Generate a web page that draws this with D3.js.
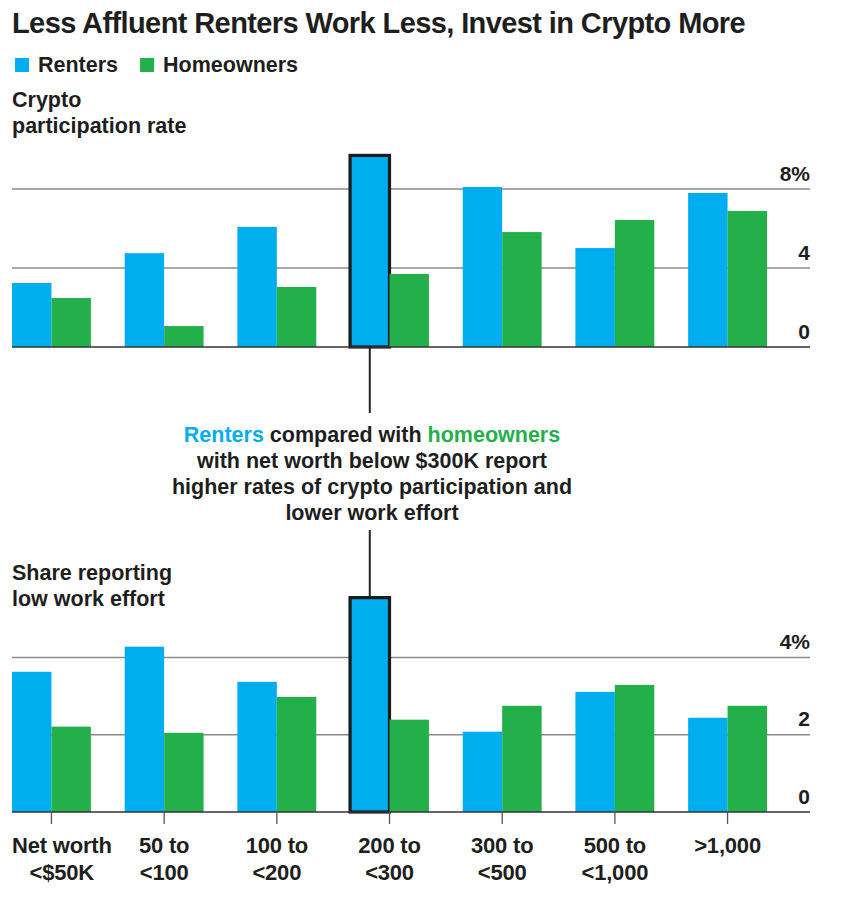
<!DOCTYPE html>
<html>
<head>
<meta charset="utf-8">
<title>Less Affluent Renters Work Less</title>
<script src="https://d3js.org/d3.v7.min.js"></script>
<style>
  body { margin: 0; background: #fff; }
  svg text { font-family: "Liberation Sans", Arial, sans-serif; fill: #1e1e1e; font-weight: bold; }
  .grid { stroke: #8a8a8a; stroke-width: 1.6; }
  .base { stroke: #333; stroke-width: 1.6; }
  .xlab { font-size: 22px; letter-spacing: -0.2px; }
</style>
</head>
<body>
<div id="chart"></div>
<script>
// Net worth groups (thousands of dollars)
var groups = ["<50", "50-100", "100-200", "200-300", "300-500", "500-1000", ">1000"];
var groupLabels = [["Net worth", "<$50K"], ["50 to", "<100"], ["100 to", "<200"], ["200 to", "<300"],
                   ["300 to", "<500"], ["500 to", "<1,000"], [">1,000", ""]];
var series = ["Renters", "Homeowners"];

// Crypto participation rate (%)
var cryptoRenters    = [3.24, 4.75, 6.08, 9.7, 8.1, 5.01, 7.8];
var cryptoHomeowners = [2.48, 1.06, 3.04, 3.7, 5.82, 6.43, 6.89];
var cryptoTicks = [0, 4, 8];

// Share reporting low work effort (%)
var workRenters    = [3.63, 4.28, 3.37, 5.55, 2.08, 3.11, 2.44];
var workHomeowners = [2.21, 2.05, 2.98, 2.39, 2.75, 3.29, 2.75];
var workTicks = [0, 2, 4];

var highlight = "200-300";

var width = 862, height = 897;
var colors = {Renters: "#00adee", Homeowners: "#23b04b"};

var svg = d3.select("#chart").append("svg")
  .attr("width", width).attr("height", height);

// title + legend
svg.append("text").attr("x", 12).attr("y", 33)
  .style("font-size", "29px").style("letter-spacing", "-0.6px")
  .text("Less Affluent Renters Work Less, Invest in Crypto More");

var legend = svg.append("g").attr("transform", "translate(15,72)");
var lx = 0;
series.forEach(function(s) {
  legend.append("rect").attr("x", lx).attr("y", -14).attr("width", 14).attr("height", 14)
    .attr("fill", colors[s]);
  var t = legend.append("text").attr("x", lx + 23).attr("y", 0)
    .style("font-size", "21.5px")
    .text(s);
  lx += 23 + t.node().getComputedTextLength() + 22;
});

var x0 = d3.scaleBand().domain(groups).range([12, 767]).paddingInner(0.3).paddingOuter(0);
var x1 = d3.scaleBand().domain(series).range([0, x0.bandwidth()]);

function panel(top, bottom, maxV, ticks, renters, homeowners, titleLines, titleY) {
  var y = d3.scaleLinear().domain([0, maxV]).range([bottom, top]);
  var g = svg.append("g");

  titleLines.forEach(function(l, i) {
    g.append("text").attr("x", 12).attr("y", titleY + i * 26)
      .style("font-size", "21.5px").text(l);
  });

  var axis = d3.axisRight(y).tickValues(ticks).tickSize(0)
    .tickFormat(function(d, i) { return i === ticks.length - 1 ? d + "%" : d; });
  var ax = g.append("g").attr("transform", "translate(810,0)").call(axis);
  ax.select(".domain").remove();
  ax.selectAll("text").attr("x", 0).attr("dy", -9).attr("text-anchor", "end")
    .style("font-size", "21px").style("font-family", "'Liberation Sans', sans-serif");

  g.selectAll(".grid").data(ticks.filter(function(d) { return d > 0; })).join("line")
    .attr("class", "grid").attr("x1", 12).attr("x2", 810)
    .attr("y1", function(d) { return y(d); }).attr("y2", function(d) { return y(d); });

  var data = groups.map(function(k, i) {
    return {key: k, values: [{s: "Renters", v: renters[i]}, {s: "Homeowners", v: homeowners[i]}]};
  });

  var grp = g.selectAll(".grp").data(data).join("g")
    .attr("transform", function(d) { return "translate(" + x0(d.key) + ",0)"; });
  grp.selectAll("rect").data(function(d) { return d.values.map(function(v) { return Object.assign({key: d.key}, v); }); })
    .join("rect")
    .attr("x", function(d) { return x1(d.s); })
    .attr("width", x1.bandwidth())
    .attr("y", function(d) { return y(d.v); })
    .attr("height", function(d) { return bottom - y(d.v); })
    .attr("fill", function(d) { return colors[d.s]; })
    .attr("stroke", function(d) { return d.key === highlight && d.s === "Renters" ? "#1b1b1b" : "none"; })
    .attr("stroke-width", 3.2);

  // raise highlighted bar so its border sits on top
  grp.filter(function(d) { return d.key === highlight; }).raise();

  g.append("line").attr("class", "base").attr("x1", 12).attr("x2", 810)
    .attr("y1", bottom).attr("y2", bottom);

  return y;
}

var yTop = panel(189, 347, 8, cryptoTicks, cryptoRenters, cryptoHomeowners,
  ["Crypto", "participation rate"], 107);
var yBot = panel(657.5, 812, 4, workTicks, workRenters, workHomeowners,
  ["Share reporting", "low work effort"], 580);

// x axis under bottom panel
var xAxis = svg.append("g").attr("transform", "translate(0,812)");
xAxis.selectAll(".tk").data(groups).join("line")
  .attr("x1", function(d) { return x0(d) + x0.bandwidth() / 2; })
  .attr("x2", function(d) { return x0(d) + x0.bandwidth() / 2; })
  .attr("y1", 0).attr("y2", 12).attr("stroke", "#555").attr("stroke-width", 1.3);
groups.forEach(function(k, i) {
  var lab = xAxis.append("g");
  groupLabels[i].forEach(function(l, j) {
    if (!l) return;
    lab.append("text").attr("class", "xlab")
      .attr("x", 0).attr("y", 41 + j * 27)
      .attr("text-anchor", "middle").text(l);
  });
  // keep the label block inside the left edge
  var cx = x0(k) + x0.bandwidth() / 2;
  var w = lab.node().getBBox().width;
  cx = Math.max(cx, 12 + w / 2);
  lab.attr("transform", "translate(" + cx + ",0)");
});

// annotation connector
var hx = x0(highlight) + x1("Renters") + x1.bandwidth() / 2;
svg.append("line").attr("x1", hx).attr("x2", hx).attr("y1", yTop(0)).attr("y2", 413)
  .attr("stroke", "#222").attr("stroke-width", 2);
svg.append("line").attr("x1", hx).attr("x2", hx).attr("y1", 530).attr("y2", yBot(workRenters[3]))
  .attr("stroke", "#222").attr("stroke-width", 2);

var ann = svg.append("text").attr("text-anchor", "middle").style("font-size", "21.5px");
var annX = 372;
var l1 = ann.append("tspan").attr("x", annX).attr("y", 442);
l1.append("tspan").style("fill", colors.Renters).text("Renters");
l1.append("tspan").text(" compared with ");
l1.append("tspan").style("fill", colors.Homeowners).text("homeowners");
["with net worth below $300K report", "higher rates of crypto participation and", "lower work effort"]
  .forEach(function(l, i) {
    ann.append("tspan").attr("x", annX).attr("y", 468 + i * 26).text(l);
  });
</script>
</body>
</html>
